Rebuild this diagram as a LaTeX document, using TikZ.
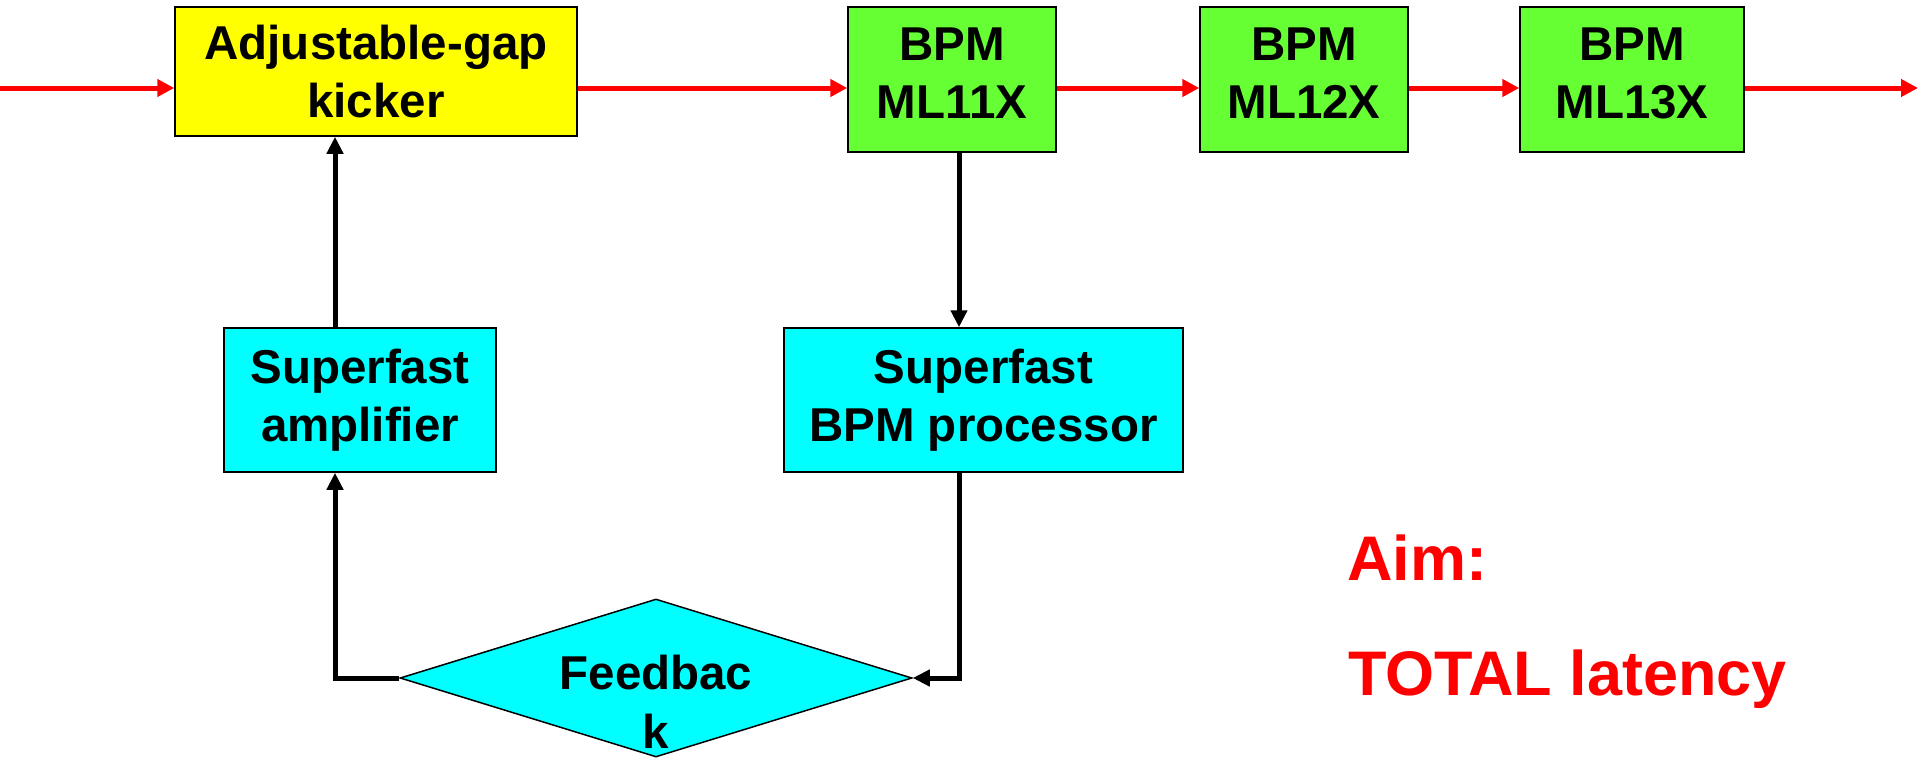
\documentclass[tikz,border=0pt]{standalone}
\usepackage{fontspec}
\setmainfont{Liberation Sans}
\usetikzlibrary{arrows.meta,shapes.geometric,calc}
\definecolor{kickyellow}{HTML}{FFFF00}
\definecolor{bpmgreen}{HTML}{66FF33}
\definecolor{fbcyan}{HTML}{00FFFF}

\begin{document}
\begin{tikzpicture}[x=1pt,y=-1pt,
  box/.style={draw,line width=1.5pt,inner sep=0pt,align=center,font=\fontsize{47.5}{58}\selectfont\bfseries},
  bpm/.style={box,fill=bpmgreen,minimum height=145,text depth=12pt},
  beam/.style={red,line width=5pt,-{Triangle[length=17pt,width=17pt]}},
  sig/.style={black,line width=5pt,-{Triangle[length=17pt,width=16pt]}},
  aim/.style={red,anchor=base west,inner sep=0pt,font=\fontsize{63}{76}\selectfont\bfseries}]
\useasboundingbox (0,0) rectangle (1920,758);

% Beam line
\node[box,fill=kickyellow,minimum width=402,minimum height=129] (kicker) at (376,71.5) {Adjustable-gap\\kicker};
\node[bpm,minimum width=208] (ml11) at (952,79.5) {BPM\\ML11X};
\node[bpm,minimum width=208] (ml12) at (1304,79.5) {BPM\\ML12X};
\node[bpm,minimum width=224] (ml13) at (1632,79.5) {BPM\\ML13X};
\coordinate (src) at (0,88);
\coordinate (out) at (1918,88);
\draw[beam] (src) -- (src -| kicker.west);
\draw[beam] (src -| kicker.east) -- (src -| ml11.west);
\draw[beam] (src -| ml11.east) -- (src -| ml12.west);
\draw[beam] (src -| ml12.east) -- (src -| ml13.west);
\draw[beam] (src -| ml13.east) -- (out);

% Feedback loop
\node[box,fill=fbcyan,minimum width=272,minimum height=144] (amp) at (360,400) {Superfast\\amplifier};
\node[box,fill=fbcyan,minimum width=399,minimum height=144] (proc) at (983.5,400) {Superfast\\BPM processor};
\node[diamond,draw,line width=1.5pt,fill=fbcyan,inner sep=0pt,minimum width=512,minimum height=158] (fb) at (656,678) {};
\node[align=center,inner sep=0pt,font=\fontsize{47.5}{59}\selectfont\bfseries] (fbtext) at ([yshift=-24]fb.center) {Feedbac\\k};
\draw[sig] ([xshift=7]ml11.south) -- ([xshift=7]ml11.south |- proc.north);
\draw[sig] ([xshift=-24.5]proc.south) |- (fb.east);
\draw[sig] (fb.west) -| ([xshift=-25]amp.south);
\draw[sig] ([xshift=-25]amp.north) -- ([xshift=-25]amp.north |- kicker.south);

% Aim
\node[aim] (aim) at (1347,580) {Aim:};
\node[aim] (total) at (1348,695) {TOTAL latency};
\end{tikzpicture}
\end{document}
